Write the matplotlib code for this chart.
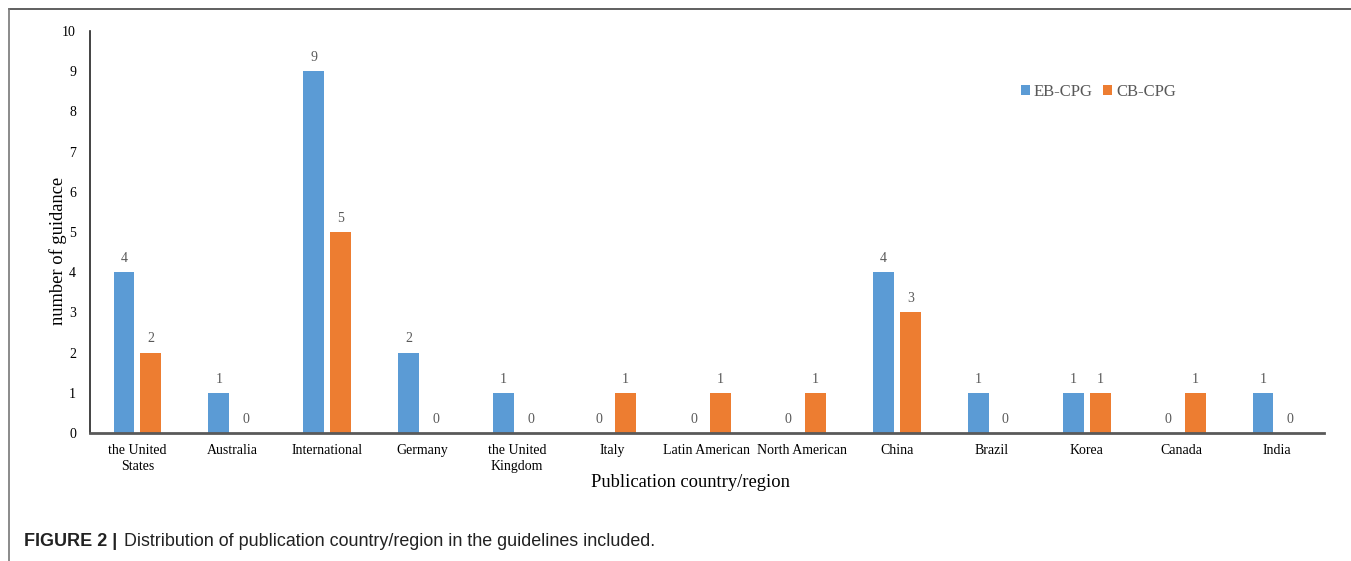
import matplotlib.pyplot as plt
import numpy as np
from matplotlib.lines import Line2D

countries = ["the United\nStates", "Australia", "International", "Germany",
             "the United\nKingdom", "Italy", "Latin American", "North American",
             "China", "Brazil", "Korea", "Canada", "India"]
eb_cpg = [4, 1, 9, 2, 1, 0, 0, 0, 4, 1, 1, 0, 1]
cb_cpg = [2, 0, 5, 0, 0, 1, 1, 1, 3, 0, 1, 1, 0]
y_ticks = list(range(0, 11))

blue = "#5B9BD5"
orange = "#ED7D31"
grey_txt = "#595959"
serif = ["Liberation Serif", "DejaVu Serif"]
sans = ["Liberation Sans", "DejaVu Sans"]

fig = plt.figure(figsize=(13.51, 5.61), dpi=100)
ax = fig.add_axes([0.0666, 0.2282, 0.9134, 0.7165])

x = np.arange(len(countries))
w = 0.22
off = 0.142
ax.bar(x - off, eb_cpg, w, color=blue, label="EB-CPG")
ax.bar(x + off, cb_cpg, w, color=orange, label="CB-CPG")

for xi, v in zip(x - off, eb_cpg):
    ax.text(xi, v + 0.18, str(v), ha="center", va="bottom", fontsize=10,
            color=grey_txt, family=serif)
for xi, v in zip(x + off, cb_cpg):
    ax.text(xi, v + 0.18, str(v), ha="center", va="bottom", fontsize=10,
            color=grey_txt, family=serif)

ax.set_xlim(-0.5, len(countries) - 0.5)
ax.set_ylim(0, 10)
ax.set_yticks(y_ticks)
ax.set_yticklabels([str(t) for t in y_ticks], family=serif, fontsize=10)
ax.set_xticks(x)
ax.set_xticklabels(countries, family=serif, fontsize=10, linespacing=1.3)
ax.tick_params(axis="both", length=0)
ax.tick_params(axis="x", pad=8)
ax.tick_params(axis="y", pad=10)

for s in ["top", "right"]:
    ax.spines[s].set_visible(False)
ax.spines["left"].set_color("#222222")
ax.spines["left"].set_linewidth(1.2)
ax.spines["bottom"].set_color("#595959")
ax.spines["bottom"].set_linewidth(2)

ax.set_ylabel("number of guidance", family=serif, fontsize=13.3)
ax.yaxis.set_label_coords(-0.019, 0.453)
ax.set_xlabel("Publication country/region", family=serif, fontsize=13.3)
ax.xaxis.set_label_coords(0.487, -0.124)
ax.xaxis.label.set_va("center")

leg = ax.legend(loc="upper left", bbox_to_anchor=(0.742, 0.905), ncol=2, frameon=False,
                prop={"family": serif, "size": 12}, handlelength=0.55,
                handleheight=0.55, handletextpad=0.25, columnspacing=0.6)
for t in leg.get_texts():
    t.set_color(grey_txt)

# Figure frame: top and left border lines
fig.add_artist(Line2D([9 / 1351, 1.0], [1 - 9 / 561, 1 - 9 / 561],
                      transform=fig.transFigure, color="#444444", lw=1.2))
fig.add_artist(Line2D([9 / 1351, 9 / 1351], [0.0, 1 - 9 / 561],
                      transform=fig.transFigure, color="#777777", lw=1.2))

fig.text(24 / 1351, 1 - 541 / 561, "FIGURE 2 |", family=sans, fontsize=13,
         fontweight="bold", color="#222222", va="center", ha="left")
fig.text(124 / 1351, 1 - 541 / 561,
         "Distribution of publication country/region in the guidelines included.",
         family=sans, fontsize=12.9, color="#222222", va="center", ha="left")

fig.savefig("out.png", dpi=100)
